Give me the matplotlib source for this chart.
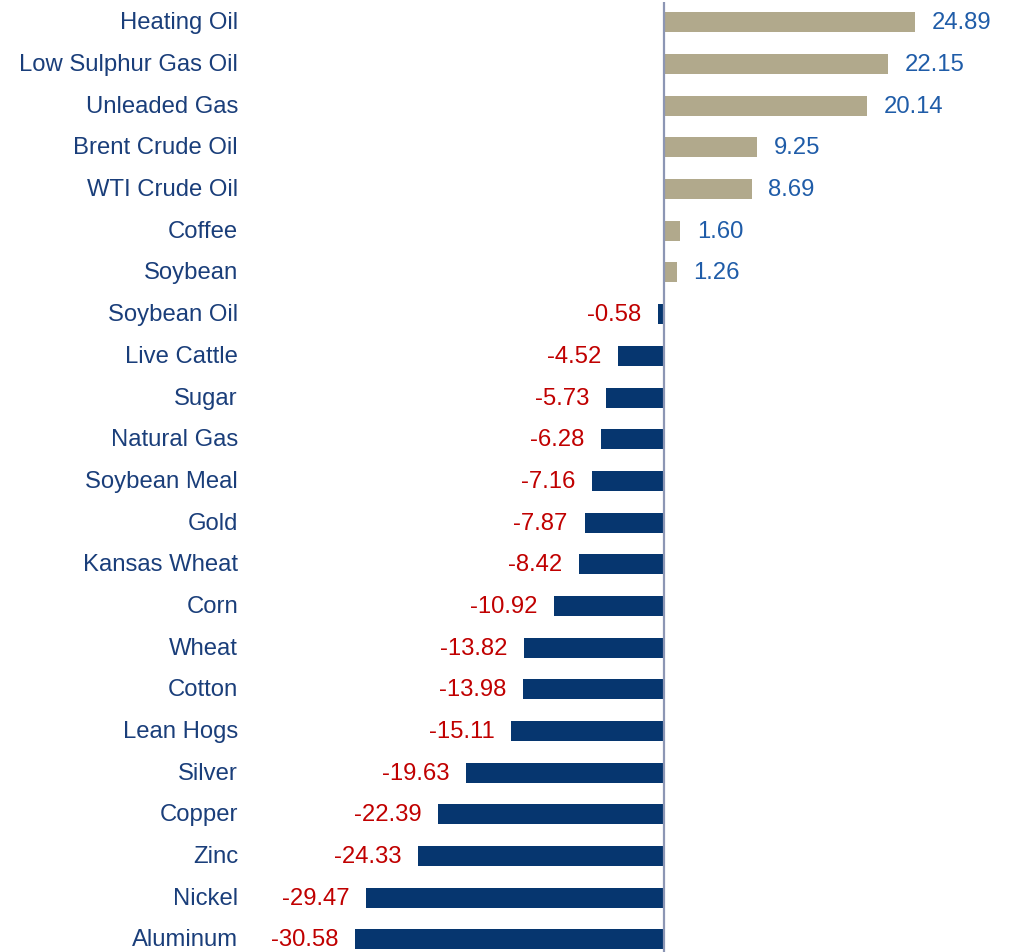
import matplotlib.pyplot as plt
from matplotlib.transforms import blended_transform_factory


# data #

commodities = ['Heating Oil', 'Low Sulphur Gas Oil', 'Unleaded Gas', 'Brent Crude Oil',
               'WTI Crude Oil', 'Coffee', 'Soybean', 'Soybean Oil', 'Live Cattle', 'Sugar',
               'Natural Gas', 'Soybean Meal', 'Gold', 'Kansas Wheat', 'Corn', 'Wheat',
               'Cotton', 'Lean Hogs', 'Silver', 'Copper', 'Zinc', 'Nickel', 'Aluminum']

returns = [24.89, 22.15, 20.14, 9.25, 8.69, 1.60, 1.26, -0.58, -4.52, -5.73,
           -6.28, -7.16, -7.87, -8.42, -10.92, -13.82, -13.98, -15.11, -19.63,
           -22.39, -24.33, -29.47, -30.58]


plt.rcParams['font.family'] = ['Liberation Sans', 'DejaVu Sans']

pos_col = '#B1A98C'
neg_col = '#06366F'

fig = plt.figure(figsize=(10.09, 9.53), dpi=100)
ax = fig.add_axes([350.9 / 1009, 0, 565.6 / 1009, 1 - 2.7 / 953])

ypos = list(range(len(commodities)))
colors = [pos_col if v >= 0 else neg_col for v in returns]
ax.barh(ypos, returns, height=0.48, color=colors)

ax.set_xlim(-31, 25)
ax.set_ylim(22.3, -0.494)
ax.axvline(0, color='#8C96B4', lw=1.6)

for s in ax.spines.values():
    s.set_visible(False)
ax.set_xticks([])
ax.set_yticks([])

# category names, right aligned at a fixed x #
trans = blended_transform_factory(fig.transFigure, ax.transData)
for y, name in zip(ypos, commodities):
    ax.text(238 / 1009, y, name, transform=trans, ha='right', va='center',
            fontsize=17.2, color='#1A3E7A')

# value labels #
for y, v in zip(ypos, returns):
    if v >= 0:
        ax.annotate(f'{v:.2f}', (v, y), xytext=(12, 0), textcoords='offset points',
                    ha='left', va='center', fontsize=17.2, color='#1F5CA8',
                    annotation_clip=False)
    else:
        ax.annotate(f'{v:.2f}', (v, y), xytext=(-12, 0), textcoords='offset points',
                    ha='right', va='center', fontsize=17.2, color='#C00000',
                    annotation_clip=False)

fig.savefig('out.png', dpi=100)
